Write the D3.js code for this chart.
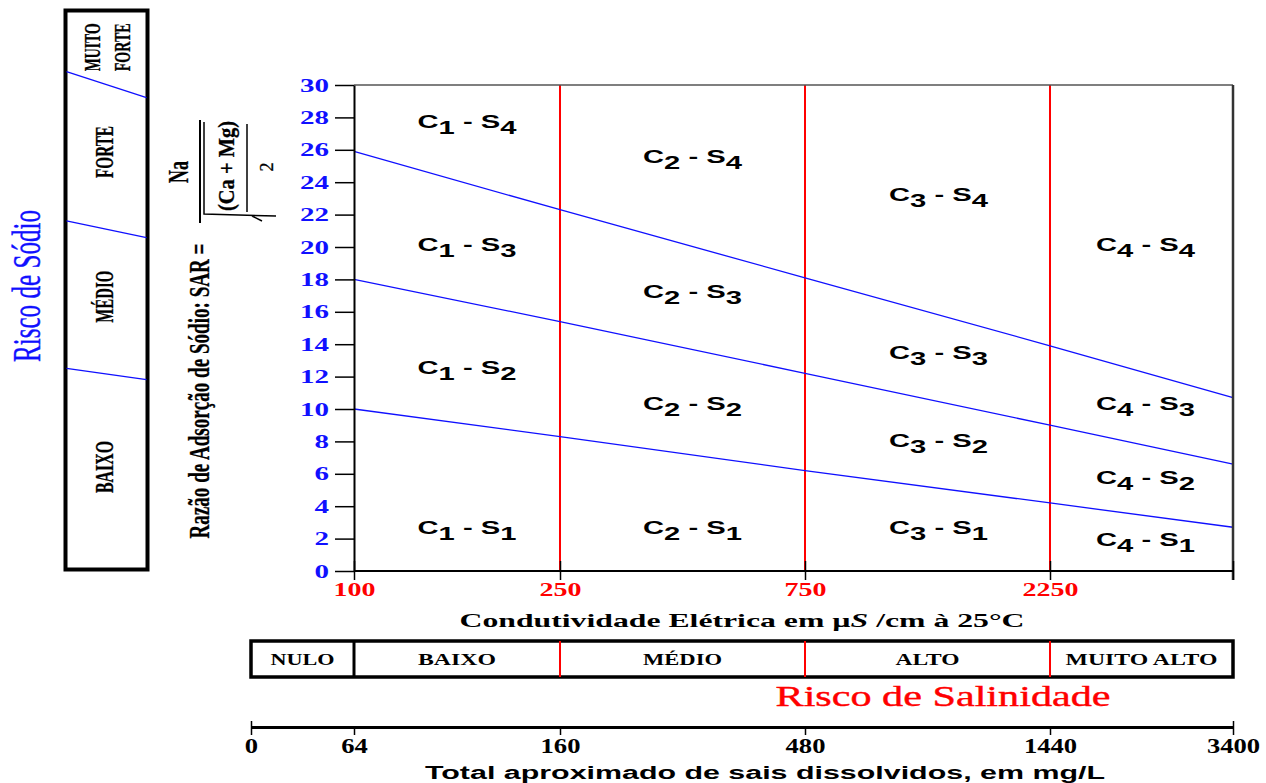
<!DOCTYPE html>
<html>
<head>
<meta charset="utf-8">
<style>
  *{margin:0;padding:0}
  body{background:#fff;width:1266px;height:783px;overflow:hidden}
  svg{display:block}
</style>
</head>
<body>
<svg id="chart"></svg>
<script src="https://cdn.jsdelivr.net/npm/d3@7/dist/d3.min.js"></script>
<script>
const W = 1266, H = 783;
const BLUE = '#1010ff', RED = '#ff0000';
const SERIF = '"Liberation Serif", "Times New Roman", serif';
const SANS = '"Liberation Sans", Arial, sans-serif';

// condutividade eletrica (uS/cm) e total de sais (mg/L) nas quebras de classe
const EC_BREAKS  = [0, 100, 250, 750, 2250, 5000];
const TDS_BREAKS = [0, 64, 160, 480, 1440, 3400];
const EC_TICKS   = [100, 250, 750, 2250, 5000];
const EC_LABELS  = ['100', '250', '750', '2250', ''];
const SAL_CLASSES = ['NULO', 'BAIXO', 'MÉDIO', 'ALTO', 'MUITO ALTO'];
const SAR_TICKS  = [0, 2, 4, 6, 8, 10, 12, 14, 16, 18, 20, 22, 24, 26, 28, 30];

// limites de SAR lidos em CE = 100, 250, 750, 2250, 5000
const S1_S2 = [10.0, 8.3, 6.2, 4.2, 2.7];
const S2_S3 = [18.0, 15.4, 12.2, 9.0, 6.6];
const S3_S4 = [25.9, 22.3, 18.1, 13.9, 10.7];

// SAR onde ficam os rotulos Cx-Sy (linha = classe C, colunas S4..S1)
const LABEL_SAR = [
  [27.8, 20.2, 12.6, 2.7],
  [25.6, 17.3, 10.4, 2.7],
  [23.3, 13.5, 8.1, 2.7],
  [20.2, 10.4, 5.8, 2.0]
];
const S_ORDER = [4, 3, 2, 1];
const LABEL_DX = [10, 10, 11, 4];   // deslocamento do rotulo em relacao ao centro da faixa

// painel lateral "Risco de Sodio"
const SODIO_CLASSES = ['BAIXO', 'MÉDIO', 'FORTE', 'MUITO FORTE'];
const PANEL_LIMITS = [[10.8, 10.2], [18.7, 17.8], [26.7, 25.3]]; // esq, dir

const svg = d3.select('#chart').attr('width', W).attr('height', H);

const xRange = [251, 354, 560, 805, 1050, 1233];
const x  = d3.scaleLinear().domain(EC_BREAKS).range(xRange);
const xt = d3.scaleLinear().domain(TDS_BREAKS).range(xRange);
const y  = d3.scaleLinear().domain([0, 30]).range([571, 85]);

const x0 = x(100), x1 = x(5000);

// helper: rotated, condensed text (the original image is stretched sideways)
function vtext(g, cx, cy, str, size, len, opts = {}) {
  return g.append('text')
    .attr('transform', `translate(${cx},${cy}) rotate(-90)`)
    .attr('text-anchor', 'middle').attr('dominant-baseline', 'central')
    .attr('font-family', SERIF).attr('font-size', size)
    .attr('font-weight', opts.weight || 'bold')
    .attr('fill', opts.fill || '#000')
    .attr('stroke', opts.fill || '#000').attr('stroke-width', opts.sw || 0.3)
    .attr('textLength', len).attr('lengthAdjust', 'spacingAndGlyphs')
    .text(str);
}
function htext(g, cx, yb, str, size, len, opts = {}) {
  return g.append('text')
    .attr('x', cx).attr('y', yb).attr('text-anchor', 'middle')
    .attr('font-family', opts.family || SERIF).attr('font-size', size)
    .attr('font-weight', opts.weight || 'bold')
    .attr('fill', opts.fill || '#000')
    .attr('textLength', len).attr('lengthAdjust', 'spacingAndGlyphs')
    .text(str);
}

// ---- plot area ----
const plot = svg.append('g');

// classes de salinidade (linhas vermelhas)
plot.selectAll('.ec').data(EC_BREAKS.slice(2, 5)).enter().append('line')
  .attr('x1', d => x(d)).attr('x2', d => x(d))
  .attr('y1', y(30)).attr('y2', y(0))
  .attr('stroke', RED).attr('stroke-width', 2);

// limites de sodio (linhas azuis)
const line = d3.line().x((d, i) => x(EC_TICKS[i])).y(d => y(d));
plot.selectAll('.sar').data([S1_S2, S2_S3, S3_S4]).enter().append('path')
  .attr('d', line).attr('fill', 'none')
  .attr('stroke', BLUE).attr('stroke-width', 1.3);

// borda superior / direita
plot.append('line').attr('x1', x0).attr('x2', x1).attr('y1', y(30)).attr('y2', y(30))
  .attr('stroke', '#555').attr('stroke-width', 1.5);
plot.append('line').attr('x1', x1).attr('x2', x1).attr('y1', y(30)).attr('y2', y(0) + 9)
  .attr('stroke', '#333').attr('stroke-width', 2.5);

// x axis line
plot.append('line').attr('x1', x0).attr('x2', x1).attr('y1', y(0)).attr('y2', y(0))
  .attr('stroke', '#000').attr('stroke-width', 2);

// eixo y
const yAxis = plot.append('g').attr('transform', `translate(${x0},0)`)
  .call(d3.axisLeft(y).tickValues(SAR_TICKS).tickSize(19).tickSizeOuter(0).tickPadding(6));
yAxis.select('.domain').attr('stroke', '#000').attr('stroke-width', 2);
yAxis.selectAll('.tick line').attr('stroke', '#000').attr('stroke-width', 1.5);
yAxis.selectAll('.tick text')
  .attr('font-family', SERIF).attr('font-weight', 'bold').attr('font-size', 19)
  .attr('fill', BLUE)
  .attr('textLength', d => String(d).length * 14.5).attr('lengthAdjust', 'spacingAndGlyphs');

// eixo x (CE)
const xAxis = plot.append('g').attr('transform', `translate(0,${y(0)})`)
  .call(d3.axisBottom(x).tickValues(EC_TICKS).tickFormat((d, i) => EC_LABELS[i])
    .tickSize(9).tickPadding(3));
xAxis.select('.domain').remove();
xAxis.selectAll('.tick line').attr('y1', -10).attr('stroke', '#000').attr('stroke-width', 1.5);
xAxis.selectAll('.tick text')
  .attr('font-family', SERIF).attr('font-weight', 'bold').attr('font-size', 19)
  .attr('fill', RED)
  .attr('textLength', (d, i) => EC_LABELS[i].length * 14).attr('lengthAdjust', 'spacingAndGlyphs');

// rotulos Cx - Sy
LABEL_SAR.forEach((col, ci) => {
  const cx = (x(EC_TICKS[ci]) + x(EC_TICKS[ci + 1])) / 2 + LABEL_DX[ci];
  col.forEach((sar, si) => {
    const t = plot.append('text')
      .attr('x', cx).attr('y', y(sar) + 7).attr('text-anchor', 'middle')
      .attr('font-family', SANS).attr('font-weight', 'bold').attr('font-size', 19)
      .attr('fill', '#000')
      .attr('textLength', 99).attr('lengthAdjust', 'spacingAndGlyphs');
    t.append('tspan').text('C');
    t.append('tspan').attr('dy', 6).text(ci + 1);
    t.append('tspan').attr('dy', -6).text(' - S');
    t.append('tspan').attr('dy', 6).text(S_ORDER[si]);
  });
});

// titulo eixo x
const xt1 = plot.append('text')
  .attr('x', 742).attr('y', 627).attr('text-anchor', 'middle')
  .attr('font-family', SERIF).attr('font-weight', 'bold').attr('font-size', 19)
  .attr('textLength', 565).attr('lengthAdjust', 'spacingAndGlyphs');
xt1.append('tspan').text('Condutividade Elétrica em µ');
xt1.append('tspan').attr('font-style', 'italic').text('S');
xt1.append('tspan').text(' /cm à 25°C');

// ---- faixa Risco de Salinidade ----
const band = svg.append('g');
const bandTop = 641, bandBot = 677;
band.append('rect')
  .attr('x', x(0)).attr('y', bandTop)
  .attr('width', x(5000) - x(0)).attr('height', bandBot - bandTop)
  .attr('fill', 'none').attr('stroke', '#000').attr('stroke-width', 3.5);
band.selectAll('.div').data(EC_BREAKS.slice(1, 5)).enter().append('line')
  .attr('x1', d => x(d)).attr('x2', d => x(d))
  .attr('y1', bandTop).attr('y2', bandBot)
  .attr('stroke', d => d === 100 ? '#000' : RED)
  .attr('stroke-width', d => d === 100 ? 3 : 2);
const bandLen = [64, 78, 79, 64, 152];
SAL_CLASSES.forEach((c, i) => {
  htext(band, (x(EC_BREAKS[i]) + x(EC_BREAKS[i + 1])) / 2, 665, c, 17, bandLen[i]);
});
htext(band, 943, 706, 'Risco de Salinidade', 29, 335, { weight: 'normal', fill: RED })
  .attr('stroke', RED).attr('stroke-width', 0.4);

// ---- eixo total de sais ----
const tAxisY = 727;
const tAxis = svg.append('g').attr('transform', `translate(0,${tAxisY})`)
  .call(d3.axisBottom(xt).tickValues(TDS_BREAKS).tickFormat(d3.format('d'))
    .tickSize(8).tickSizeOuter(0).tickPadding(4));
tAxis.select('.domain').attr('stroke', '#000').attr('stroke-width', 3);
tAxis.selectAll('.tick line').attr('stroke', '#000').attr('stroke-width', 1.5)
  .attr('y1', (d, i) => (i === 0 || i === TDS_BREAKS.length - 1) ? -6 : 0);
tAxis.selectAll('.tick text')
  .attr('font-family', SERIF).attr('font-weight', 'bold').attr('font-size', 20)
  .attr('fill', '#000')
  .attr('textLength', d => String(d).length * 13.3).attr('lengthAdjust', 'spacingAndGlyphs');
htext(svg, 765, 779, 'Total aproximado de sais dissolvidos, em mg/L', 18, 680, { family: SANS });

// ---- painel lateral de sodio ----
const panel = svg.append('g');
const pL = 65.5, pR = 147.5, pT = 10.5, pB = 569.5;
const py = d3.scaleLinear().domain([0, 30]).range([570, 10]);
panel.append('rect').attr('x', pL).attr('y', pT)
  .attr('width', pR - pL).attr('height', pB - pT)
  .attr('fill', 'none').attr('stroke', '#000').attr('stroke-width', 4);
panel.selectAll('.pl').data(PANEL_LIMITS).enter().append('line')
  .attr('x1', pL + 1).attr('x2', pR - 1)
  .attr('y1', d => py(d[0])).attr('y2', d => py(d[1]))
  .attr('stroke', BLUE).attr('stroke-width', 1.3);
const bounds = [0].concat(PANEL_LIMITS.map(d => (d[0] + d[1]) / 2), [30]);
const pcx = (pL + pR) / 2;
SODIO_CLASSES.forEach((c, i) => {
  const words = c.split(' ');
  if (words.length === 1) {
    const cy = py((bounds[i] + bounds[i + 1]) / 2) - 5;
    vtext(panel, pcx - 2, cy, c, 25, 52);
  } else {
    const cy = py((bounds[i] + bounds[i + 1]) / 2);
    words.forEach((w, k) => vtext(panel, pcx - 14 + k * 30, cy, w, 23, 48));
  }
});
vtext(panel, 26, 286, 'Risco de Sódio', 39, 152, { weight: 'normal', fill: BLUE, sw: 0.4 });

// ---- rotulo eixo y e formula SAR ----
const ylab = svg.append('g');
vtext(ylab, 198, 391, 'Razão de Adsorção de Sódio: SAR =', 30, 295);
vtext(ylab, 178, 172, 'Na', 29, 22);
ylab.append('line').attr('x1', 200).attr('x2', 200).attr('y1', 120).attr('y2', 223)
  .attr('stroke', '#000').attr('stroke-width', 2);
ylab.append('path')
  .attr('d', 'M204,122 L204,214 L276,216 M262,221 L252,216')
  .attr('fill', 'none').attr('stroke', '#000').attr('stroke-width', 1.5);
vtext(ylab, 226, 166, '(Ca  +  Mg)', 24, 90);
ylab.append('line').attr('x1', 247).attr('x2', 247).attr('y1', 124).attr('y2', 212)
  .attr('stroke', '#000').attr('stroke-width', 1.5);
vtext(ylab, 266, 167, '2', 19, 9, { weight: 'normal' });
</script>
</body>
</html>
